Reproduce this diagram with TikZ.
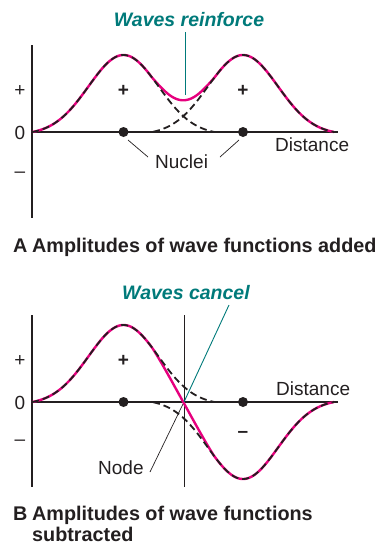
\documentclass[tikz,border=0pt]{standalone}
\usepackage{fontspec}
\setmainfont{Liberation Sans}
\definecolor{pinkc}{RGB}{230,0,126}
\definecolor{tealc}{RGB}{0,122,122}
\definecolor{inkc}{RGB}{35,31,32}
\tikzset{
  axisline/.style={line width=2.4pt, draw=inkc},
  thinaxis/.style={line width=0.9pt, draw=inkc},
  pinkwave/.style={line width=2.4pt, draw=pinkc, line join=round},
  dashwave/.style={line width=1.8pt, draw=inkc, dash pattern=on 7pt off 4pt},
  tealline/.style={line width=0.9pt, draw=tealc},
  leader/.style={line width=0.7pt, draw=inkc},
  dot/.style={circle, fill=inkc, inner sep=0pt, minimum size=10pt},
  lbl/.style={inner sep=0pt, text=inkc, font=\fontsize{19}{21}\selectfont},
  signlbl/.style={inner sep=0pt, text=inkc, font=\fontsize{19}{21}\selectfont},
  boldsign/.style={inner sep=0pt, text=inkc, font=\fontsize{19}{21}\selectfont\bfseries},
  title/.style={inner sep=0pt, text=tealc, font=\fontsize{19.5}{22}\selectfont\bfseries\itshape},
  caption/.style={inner sep=0pt, text=inkc, font=\fontsize{19.8}{23}\selectfont\bfseries},
}
% truncated gaussian bumps (zero at 91 pt from centre)
\pgfmathdeclarefunction{gA}{1}{\pgfmathparse{max(0,(exp(-0.5*((#1-123.5)/35)*((#1-123.5)/35))-0.034)/0.966)}}
\pgfmathdeclarefunction{gB}{1}{\pgfmathparse{max(0,(exp(-0.5*((#1-243)/35)*((#1-243)/35))-0.034)/0.966)}}
\begin{document}
\begin{tikzpicture}[x=1pt,y=-1pt]
\useasboundingbox (0,0) rectangle (380,547);
% ---------------- Panel A ----------------
\draw[axisline] (32,45) -- (32,218);
\draw[axisline] (32,132) -- (338,132);
\draw[pinkwave] plot[domain=32:334, samples=160, smooth] (\x, {132-77*(gA(\x)+gB(\x))});
\draw[dashwave] plot[domain=32:214, samples=100, smooth] (\x, {132-77*gA(\x)});
\draw[dashwave] plot[domain=153:334, samples=100, smooth] (\x, {132-77*gB(\x)});
\node[dot] (nA1) at (123.5,132) {};
\node[dot] (nA2) at (243,132) {};
\node[title] (wr) at (189,20) {Waves reinforce};
\coordinate (wrtop) at (185,32);
\coordinate (wrbot) at (185,95);
\draw[tealline] (wrtop) -- (wrbot);
\node[signlbl] (pA) at (20,91) {+};
\node[signlbl] (zA) at (20,133) {0};
\node[signlbl] (mA) at (20,175) {\textendash};
\node[boldsign] (pA1) at (123.5,91) {+};
\node[boldsign] (pA2) at (243,91) {+};
\node[lbl, anchor=base west] (distA) at (275,151) {Distance};
\node[lbl, anchor=base west] (nuc) at (155,168) {Nuclei};
\coordinate (lA1) at (128,140);
\coordinate (lA1e) at (148,157);
\coordinate (lA2) at (239,140);
\coordinate (lA2e) at (220,157);
\draw[leader] (lA1) -- (lA1e);
\draw[leader] (lA2) -- (lA2e);
\node[caption, anchor=base west] (capAl) at (13,252) {A};
\node[caption, anchor=base west] (capA) at (32,252) {Amplitudes of wave functions added};
% ---------------- Panel B ----------------
\draw[axisline] (32,315) -- (32,487);
\draw[thinaxis] (184,315) -- (184,487);
\draw[axisline] (32,402) -- (338,402);
\draw[pinkwave] plot[domain=32:334, samples=160, smooth] (\x, {402-77*(gA(\x)-gB(\x))});
\draw[dashwave] plot[domain=32:214, samples=100, smooth] (\x, {402-77*gA(\x)});
\draw[dashwave] plot[domain=153:334, samples=100, smooth] (\x, {402+77*gB(\x)});
\node[dot] (nB1) at (123.5,402) {};
\node[dot] (nB2) at (243,402) {};
\node[title] (wc) at (186,293) {Waves cancel};
\coordinate (wctop) at (229,305);
\coordinate (wcbot) at (184,402);
\draw[tealline] (wctop) -- (wcbot);
\node[signlbl] (pB) at (20,361) {+};
\node[signlbl] (zB) at (20,403) {0};
\node[signlbl] (mB) at (20,443) {\textendash};
\node[boldsign] (pB1) at (123.5,361) {+};
\node[boldsign] (mB1) at (243,434) {\textendash};
\node[lbl, anchor=base west] (distB) at (276,395) {Distance};
\node[lbl, anchor=base west] (nodel) at (98,474) {Node};
\coordinate (lB1) at (150,472);
\coordinate (lB1e) at (183,404);
\draw[leader] (lB1) -- (lB1e);
\node[caption, anchor=base west] (capBl) at (13,520) {B};
\node[caption, anchor=base west] (capB) at (32,520) {Amplitudes of wave functions};
\node[caption, anchor=base west] (capB2) at (32,541) {subtracted};
\end{tikzpicture}
\end{document}
